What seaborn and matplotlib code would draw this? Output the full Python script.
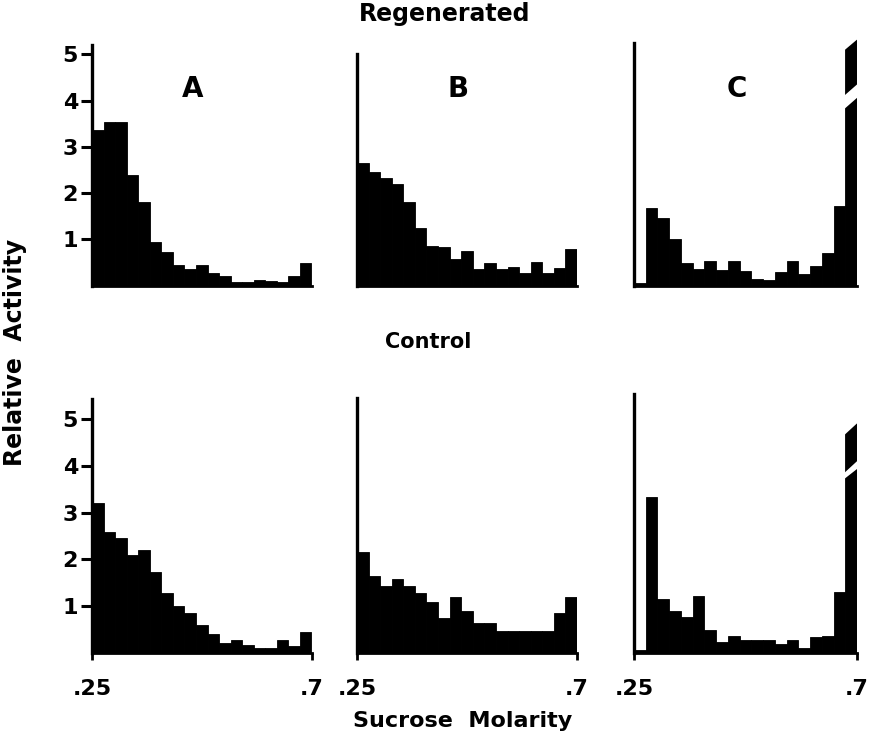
import numpy as np
import pandas as pd
import matplotlib
matplotlib.use("Agg")
import matplotlib.pyplot as plt
import seaborn as sns

# ---- data (relative activity per sucrose-molarity fraction) ----
x_min, x_max = 0.25, 0.70
n_bins = 19
x_tick_values = [0.25, 0.70]
x_tick_labels = [".25", ".7"]
y_tick_values = [1, 2, 3, 4, 5]
y_tick_labels = ["1", "2", "3", "4", "5"]

row_titles = ["Regenerated", "Control"]
panel_letters = ["A", "B", "C"]

regen_A = [3.36, 3.54, 3.54, 2.40, 1.81, 0.94, 0.73, 0.44, 0.35, 0.44,
           0.26, 0.20, 0.07, 0.07, 0.12, 0.10, 0.07, 0.21, 0.49]
regen_B = [2.65, 2.46, 2.33, 2.19, 1.81, 1.25, 0.86, 0.84, 0.58, 0.75,
           0.35, 0.48, 0.35, 0.40, 0.28, 0.50, 0.28, 0.38, 0.78]
regen_C = [0.05, 1.67, 1.46, 1.01, 0.48, 0.36, 0.52, 0.34, 0.52, 0.32,
           0.14, 0.12, 0.29, 0.53, 0.25, 0.43, 0.70, 1.71, 5.33]
control_A = [3.20, 2.58, 2.45, 2.10, 2.20, 1.72, 1.27, 0.99, 0.86, 0.59,
             0.41, 0.21, 0.28, 0.17, 0.11, 0.11, 0.27, 0.14, 0.45]
control_B = [2.15, 1.65, 1.42, 1.58, 1.42, 1.28, 1.08, 0.74, 1.19, 0.89,
             0.64, 0.63, 0.47, 0.47, 0.47, 0.47, 0.47, 0.86, 1.20]
control_C = [0.06, 3.33, 1.14, 0.89, 0.76, 1.21, 0.48, 0.23, 0.36, 0.28,
             0.28, 0.28, 0.19, 0.28, 0.09, 0.33, 0.35, 1.31, 4.92]

# broken last bar in panel C: (left, right) values of the gap edges and slanted top
regen_C_break_low = [3.82, 4.08]
regen_C_break_high = [4.11, 4.37]
regen_C_top_left = 5.09
control_C_break_low = [3.72, 3.95]
control_C_break_high = [3.85, 4.12]
control_C_top_left = 4.66

sns.set_theme(style="white")
plt.rcParams["font.family"] = ["DejaVu Sans"]
plt.rcParams["text.color"] = "black"
plt.rcParams["xtick.color"] = "black"
plt.rcParams["ytick.color"] = "black"
plt.rcParams["axes.labelcolor"] = "black"
FW = "bold"

W, H = 872, 740
fig = plt.figure(figsize=(W / 100, H / 100), dpi=100)


def px_axes(x0, x1, y_zero, px_per_unit, ytop):
    """create axes from pixel geometry"""
    top_px = y_zero - ytop * px_per_unit
    return fig.add_axes([x0 / W, (H - y_zero) / H, (x1 - x0) / W, (y_zero - top_px) / H])


edges = np.linspace(x_min, x_max, n_bins + 1)
centers = (edges[:-1] + edges[1:]) / 2

rows = [
    dict(data=[regen_A, regen_B, regen_C], yzero=285.5, ppu=46.2, ytop=5.36,
         spine_top=[5.2, 5.0, 5.25],
         brk=(regen_C_break_low, regen_C_break_high, regen_C_top_left)),
    dict(data=[control_A, control_B, control_C], yzero=652.7, ppu=46.7, ytop=5.6,
         spine_top=[5.44, 5.46, 5.55],
         brk=(control_C_break_low, control_C_break_high, control_C_top_left)),
]
cols_px = [(92, 311.5), (357, 577), (634, 857)]

for r, row in enumerate(rows):
    for c in range(3):
        x0, x1 = cols_px[c]
        ax = px_axes(x0, x1, row["yzero"], row["ppu"], row["ytop"])
        df = pd.DataFrame({"molarity": centers, "activity": row["data"][c]})
        sns.histplot(data=df, x="molarity", weights="activity", bins=n_bins,
                     binrange=(x_min, x_max),
                     stat="count", element="bars", fill=True, color="black",
                     edgecolor="black", linewidth=0.6, alpha=1, ax=ax)
        ax.set_xlim(x_min, x_max)
        ax.set_ylim(0, row["ytop"])
        ax.set_xlabel("")
        ax.set_ylabel("")
        for s in ["top", "right"]:
            ax.spines[s].set_visible(False)
        ax.spines["left"].set_bounds(0, row["spine_top"][c])
        ax.spines["left"].set_linewidth(2.4)
        ax.spines["bottom"].set_linewidth(2.0)
        ax.spines["left"].set_color("black")
        ax.spines["bottom"].set_color("black")
        ax.patch.set_alpha(0)

        if c == 0:
            ax.set_yticks(y_tick_values)
            ax.set_yticklabels(y_tick_labels, fontsize=16, fontweight=FW,
                               color="black")
            ax.tick_params(axis="y", direction="out", length=8, width=2.2,
                           left=True, pad=2, color="black")
        else:
            ax.set_yticks([])

        if r == 1:
            ax.set_xticks(x_tick_values)
            ax.set_xticklabels(x_tick_labels, fontsize=16, fontweight=FW,
                               color="black")
            ax.tick_params(axis="x", direction="out", length=5, width=2,
                           bottom=True, pad=14, color="black")
        else:
            ax.set_xticks([])

        if r == 0:
            ax.text(0.46, 0.795, panel_letters[c], transform=ax.transAxes,
                    ha="center", va="center", fontsize=20, fontweight=FW,
                    color="black")

        if c == 2:
            low, high, top_left = row["brk"]
            xl, xr = edges[-2], edges[-1]
            top_right = row["data"][2][-1]
            # white slanted gap
            ax.fill([xl - 0.002, xr + 0.002, xr + 0.002, xl - 0.002],
                    [low[0], low[1], high[1], high[0]],
                    color="white", lw=0, zorder=5, clip_on=False)
            # slanted top
            ax.fill([xl - 0.002, xr + 0.002, xl - 0.002],
                    [top_left, top_right + 0.01, top_right + 0.01],
                    color="white", lw=0, zorder=5, clip_on=False)

fig.text(445 / W, 1 - 14 / H, row_titles[0], ha="center", va="center",
         fontsize=17, fontweight=FW, color="black")
fig.text(428 / W, 1 - 342 / H, row_titles[1], ha="center", va="center",
         fontsize=15, fontweight=FW, color="black")
fig.text(463 / W, 1 - 721 / H, "Sucrose  Molarity", ha="center", va="center",
         fontsize=16, fontweight=FW, color="black")
fig.text(15 / W, 1 - 352 / H, "Relative  Activity", ha="center", va="center",
         rotation=90, fontsize=17, fontweight=FW, color="black")

fig.savefig("out.png", dpi=100)
